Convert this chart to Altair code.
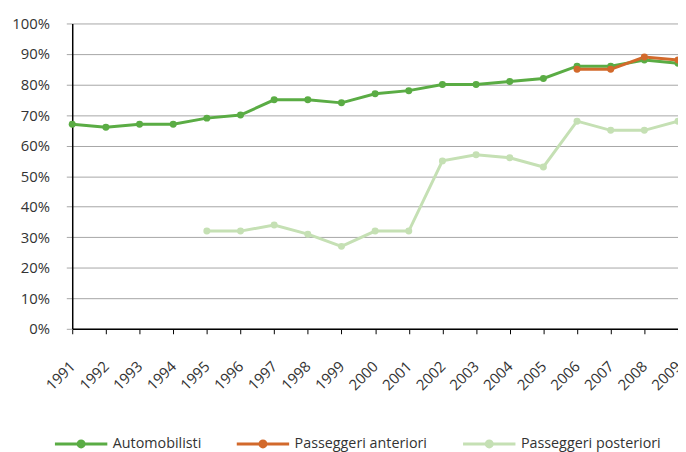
import altair as alt
import pandas as pd

years = list(range(1991, 2010))
automobilisti = [67, 66, 67, 67, 69, 70, 75, 75, 74, 77, 78, 80, 80, 81, 82, 86, 86, 88, 87]
anteriori_years = [2006, 2007, 2008, 2009]
anteriori = [85, 85, 89, 88]
posteriori_years = list(range(1995, 2010))
posteriori = [32, 32, 34, 31, 27, 32, 32, 55, 57, 56, 53, 68, 65, 65, 68]

series_names = ["Automobilisti", "Passeggeri anteriori", "Passeggeri posteriori"]
series_colors = ["#5aac44", "#d2692b", "#c5e0b4"]

rows = []
for y, v in zip(years, automobilisti):
    rows.append({"anno": str(y), "valore": v, "serie": series_names[0]})
for y, v in zip(anteriori_years, anteriori):
    rows.append({"anno": str(y), "valore": v, "serie": series_names[1]})
for y, v in zip(posteriori_years, posteriori):
    rows.append({"anno": str(y), "valore": v, "serie": series_names[2]})
df = pd.DataFrame(rows)

FONT = "Open Sans"
r = 0.115
legend_path = (
    f"M-1,0L1,0M{r},0A{r},{r},0,1,1,-{r},0A{r},{r},0,1,1,{r},0Z"
)

x_enc = alt.X(
    "anno:O",
    scale=alt.Scale(domain=[str(y) for y in years], padding=0),
    axis=alt.Axis(
        title=None,
        labelAngle=-45,
        labelAlign="right",
        labelBaseline="middle",
        labelPadding=30,
        tickSize=5,
        tickColor="#000000",
        domainColor="#000000",
        domainWidth=1.5,
        labelFontSize=15,
        labelColor="#333333",
        labelFont=FONT,
        grid=False,
    ),
)
y_enc = alt.Y(
    "valore:Q",
    scale=alt.Scale(domain=[0, 100], nice=False),
    axis=alt.Axis(
        title=None,
        values=list(range(0, 101, 10)),
        labelExpr="datum.value + '%'",
        tickSize=6,
        tickColor="#a6a6a6",
        domainColor="#000000",
        domainWidth=1.5,
        gridColor="#a6a6a6",
        gridWidth=1,
        labelPadding=17,
        labelFontSize=15,
        labelColor="#333333",
        labelFont=FONT,
    ),
)
color_enc = alt.Color(
    "serie:N",
    scale=alt.Scale(domain=series_names, range=series_colors),
    legend=alt.Legend(
        title=None,
        orient="none",
        legendX=-19,
        legendY=397,
        direction="horizontal",
        symbolType=legend_path,
        symbolSize=2809,
        symbolStrokeWidth=3,
        labelFontSize=14.5,
        labelFont=FONT,
        labelColor="#333333",
        labelOffset=4,
        columnPadding=29,
    ),
)

base = alt.Chart(df).encode(x=x_enc, y=y_enc, color=color_enc, detail="serie:N")
lines = base.mark_line(strokeWidth=3)
points = base.mark_point(filled=True, size=50, opacity=1)

chart = (
    alt.layer(lines, points)
    .properties(
        width=613,
        height=309,
        autosize=alt.AutoSizeParams(type="none"),
        padding={"left": 65, "right": 0, "top": 13, "bottom": 122},
    )
    .configure_view(stroke=None)
)

chart.save("out.html", embed_options={"renderer": "svg", "actions": False})
